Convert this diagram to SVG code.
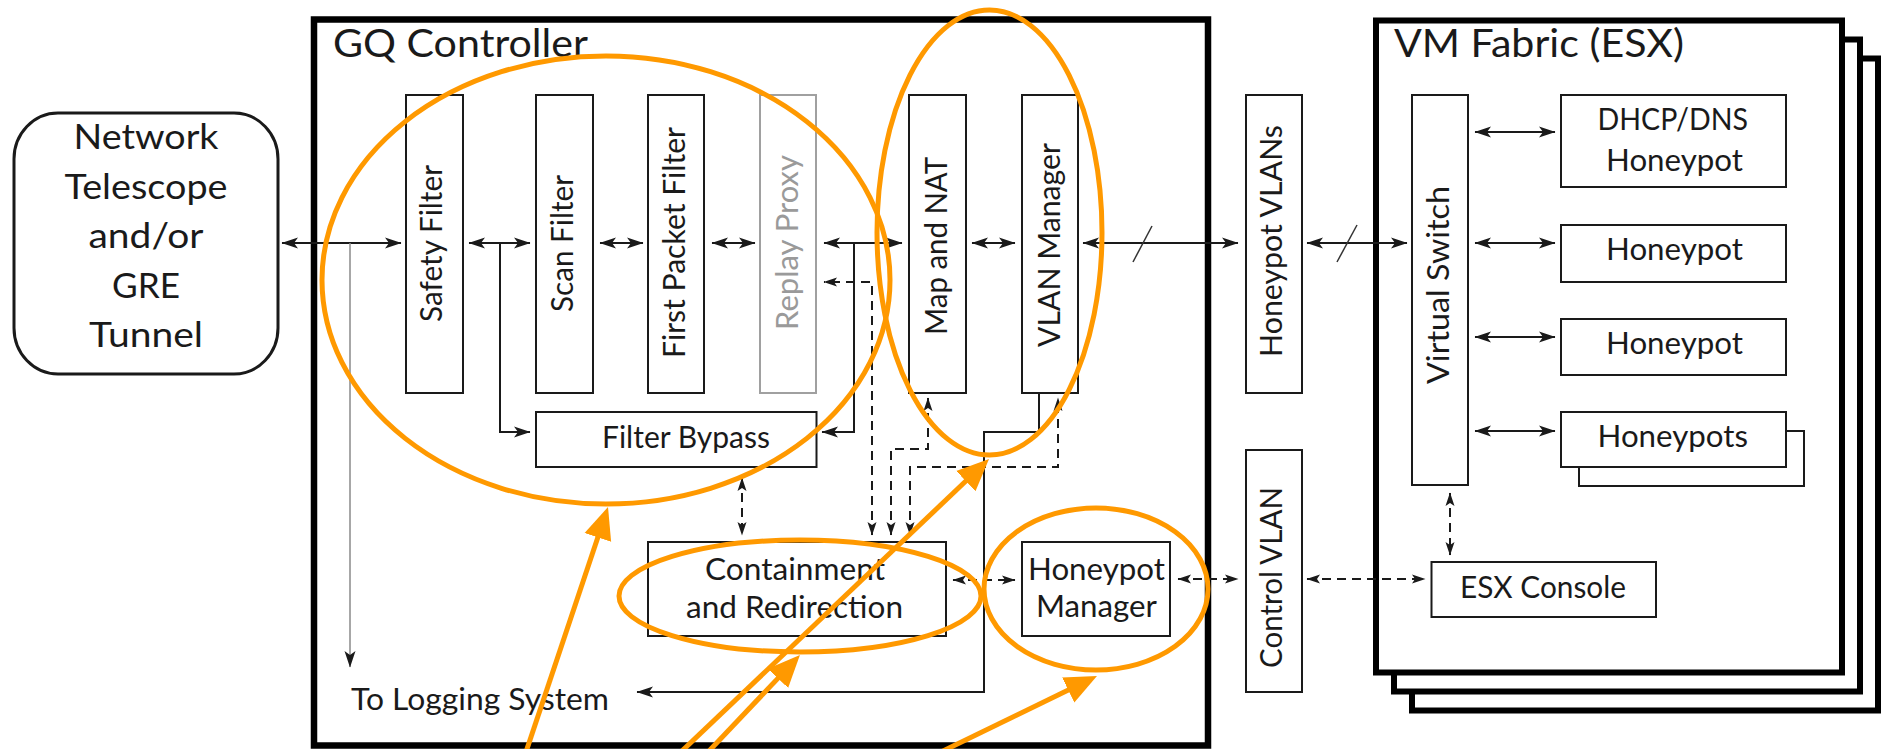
<svg xmlns="http://www.w3.org/2000/svg" width="1885" height="749" viewBox="0 0 1885 749">
  <style>
    .box { fill: #fff; stroke: #1a1a1a; stroke-width: 2; }
    .frame { fill: #fff; stroke: #000; stroke-width: 6; }
    .ghost { fill: #fff; stroke: #a0a0a0; stroke-width: 2; }
    .t { font-family: Lato, "Liberation Sans", Arial, sans-serif; fill: #1a1a1a; font-size: 30px; }
    .title { font-size: 38px; }
    .big { font-size: 35px; }
    .gray { fill: #9a9a9a; }
    .line { fill: none; stroke: #1a1a1a; stroke-width: 2; }
    .dash { fill: none; stroke: #1a1a1a; stroke-width: 2; stroke-dasharray: 9 6; }
    .hl { fill: none; stroke: #ff9900; stroke-width: 5; }
  </style>
  <defs>
    <marker id="ah" viewBox="-17 -6 18 12" refX="0" refY="0" markerWidth="18" markerHeight="12" markerUnits="userSpaceOnUse" orient="auto-start-reverse">
      <path d="M0.5,0 L-16,-5.5 L-12,0 L-16,5.5 z" fill="#1a1a1a"/>
    </marker>
    <marker id="ahs" viewBox="-14 -5 15 10" refX="0" refY="0" markerWidth="15" markerHeight="10" markerUnits="userSpaceOnUse" orient="auto-start-reverse">
      <path d="M0.5,0 L-13,-4.5 L-10,0 L-13,4.5 z" fill="#1a1a1a"/>
    </marker>
    <marker id="oh" viewBox="0 -15 33 30" refX="3" refY="0" markerWidth="33" markerHeight="30" markerUnits="userSpaceOnUse" orient="auto">
      <path d="M0,-14 L32,0 L0,14 z" fill="#ff9900"/>
    </marker>
  </defs>

  <rect width="1885" height="749" fill="#fff"/>

  <!-- external source -->
  <g id="network-telescope">
    <rect x="14" y="113" width="264" height="261" rx="44" ry="46" fill="#fff" stroke="#1a1a1a" stroke-width="3"/>
    <text class="t big" x="146" y="149" text-anchor="middle" textLength="145" lengthAdjust="spacingAndGlyphs">Network</text>
    <text class="t big" x="146" y="198.5" text-anchor="middle" textLength="163" lengthAdjust="spacingAndGlyphs">Telescope</text>
    <text class="t big" x="146" y="248" text-anchor="middle" textLength="115" lengthAdjust="spacingAndGlyphs">and/or</text>
    <text class="t big" x="146" y="297.5" text-anchor="middle" textLength="68" lengthAdjust="spacingAndGlyphs">GRE</text>
    <text class="t big" x="146" y="347" text-anchor="middle" textLength="114" lengthAdjust="spacingAndGlyphs">Tunnel</text>
  </g>

  <!-- controller frame -->
  <g id="gq-controller">
    <rect x="314" y="19.5" width="894" height="726" fill="none" stroke="#000" stroke-width="6.5"/>
    <text class="t title" x="333" y="57" textLength="255" lengthAdjust="spacingAndGlyphs">GQ Controller</text>
  </g>

  <g id="safety-filter">
    <rect class="box" x="406" y="95" width="57" height="298"/>
    <text class="t" transform="translate(442,243.5) rotate(-90)" text-anchor="middle" textLength="157" lengthAdjust="spacingAndGlyphs">Safety Filter</text>
  </g>
  <g id="scan-filter">
    <rect class="box" x="536" y="95" width="57" height="298"/>
    <text class="t" transform="translate(573,243.5) rotate(-90)" text-anchor="middle" textLength="137" lengthAdjust="spacingAndGlyphs">Scan Filter</text>
  </g>
  <g id="first-packet-filter">
    <rect class="box" x="648" y="95" width="56" height="298"/>
    <text class="t" transform="translate(685,242.5) rotate(-90)" text-anchor="middle" textLength="231" lengthAdjust="spacingAndGlyphs">First Packet Filter</text>
  </g>
  <g id="replay-proxy">
    <rect class="ghost" x="760" y="95" width="56" height="298"/>
    <text class="t gray" transform="translate(798,242.5) rotate(-90)" text-anchor="middle" textLength="175" lengthAdjust="spacingAndGlyphs">Replay Proxy</text>
  </g>
  <g id="map-and-nat">
    <rect class="box" x="909" y="95" width="57" height="298"/>
    <text class="t" transform="translate(947,246) rotate(-90)" text-anchor="middle" textLength="178" lengthAdjust="spacingAndGlyphs">Map and NAT</text>
  </g>
  <g id="vlan-manager">
    <rect class="box" x="1022" y="95" width="56" height="298"/>
    <text class="t" transform="translate(1060,245) rotate(-90)" text-anchor="middle" textLength="204" lengthAdjust="spacingAndGlyphs">VLAN Manager</text>
  </g>
  <g id="filter-bypass">
    <rect class="box" x="536" y="412" width="280.5" height="55"/>
    <text class="t" x="602" y="448" textLength="168" lengthAdjust="spacingAndGlyphs">Filter Bypass</text>
  </g>
  <g id="containment">
    <rect class="box" x="648" y="542" width="298" height="94"/>
    <text class="t" x="705" y="580" textLength="180" lengthAdjust="spacingAndGlyphs">Containment</text>
    <text class="t" x="686" y="618" textLength="217" lengthAdjust="spacingAndGlyphs">and Redirection</text>
  </g>
  <g id="honeypot-manager">
    <rect class="box" x="1022" y="542" width="148" height="94"/>
    <text class="t" x="1028" y="580" textLength="137" lengthAdjust="spacingAndGlyphs">Honeypot</text>
    <text class="t" x="1036" y="617" textLength="121" lengthAdjust="spacingAndGlyphs">Manager</text>
  </g>
  <g id="logging">
    <text class="t" x="351" y="710" textLength="258" lengthAdjust="spacingAndGlyphs">To Logging System</text>
  </g>

  <g id="honeypot-vlans">
    <rect class="box" x="1246" y="95" width="56" height="298"/>
    <text class="t" transform="translate(1282,241) rotate(-90)" text-anchor="middle" textLength="232" lengthAdjust="spacingAndGlyphs">Honeypot VLANs</text>
  </g>
  <g id="control-vlan">
    <rect class="box" x="1246" y="450" width="56" height="242"/>
    <text class="t" transform="translate(1282,577.5) rotate(-90)" text-anchor="middle" textLength="181" lengthAdjust="spacingAndGlyphs">Control VLAN</text>
  </g>

  <!-- VM fabric: stacked hosts -->
  <g id="vm-fabric">
    <rect class="frame" x="1412" y="58.5" width="466" height="652"/>
    <rect class="frame" x="1394" y="39.5" width="466" height="652"/>
    <rect class="frame" x="1376" y="20.5" width="466" height="652"/>
    <text class="t title" x="1394" y="57" textLength="290" lengthAdjust="spacingAndGlyphs">VM Fabric (ESX)</text>
  </g>
  <g id="virtual-switch">
    <rect class="box" x="1412" y="95" width="56" height="390"/>
    <text class="t" transform="translate(1449,285) rotate(-90)" text-anchor="middle" textLength="198" lengthAdjust="spacingAndGlyphs">Virtual Switch</text>
  </g>
  <g id="dhcp-dns-honeypot">
    <rect class="box" x="1561" y="95" width="225" height="92"/>
    <text class="t" x="1597.5" y="130" textLength="150.5" lengthAdjust="spacingAndGlyphs">DHCP/DNS</text>
    <text class="t" x="1606" y="171" textLength="137" lengthAdjust="spacingAndGlyphs">Honeypot</text>
  </g>
  <g id="honeypot-1">
    <rect class="box" x="1561" y="225" width="225" height="57"/>
    <text class="t" x="1606" y="260" textLength="137" lengthAdjust="spacingAndGlyphs">Honeypot</text>
  </g>
  <g id="honeypot-2">
    <rect class="box" x="1561" y="319" width="225" height="56"/>
    <text class="t" x="1606" y="354" textLength="137" lengthAdjust="spacingAndGlyphs">Honeypot</text>
  </g>
  <g id="honeypots">
    <rect class="box" x="1579" y="431" width="225" height="55"/>
    <rect class="box" x="1561" y="412" width="225" height="55"/>
    <text class="t" x="1597.5" y="447" textLength="150.5" lengthAdjust="spacingAndGlyphs">Honeypots</text>
  </g>
  <g id="esx-console">
    <rect class="box" x="1431.5" y="562" width="224.5" height="55"/>
    <text class="t" x="1460" y="598" textLength="166" lengthAdjust="spacingAndGlyphs">ESX Console</text>
  </g>

  <!-- data and control paths -->
  <g id="connectors">
    <path class="line" d="M282,243 H401" marker-start="url(#ah)" marker-end="url(#ah)"/>
    <path d="M350,243 V667" fill="none" stroke="#8a8a8a" stroke-width="1.5" marker-end="url(#ah)"/>
    <path class="line" d="M469,243 H530" marker-start="url(#ah)" marker-end="url(#ah)"/>
    <path class="line" d="M500,243 V432 H530" marker-end="url(#ah)"/>
    <path class="line" d="M600,243 H643" marker-start="url(#ah)" marker-end="url(#ah)"/>
    <path class="line" d="M712,243 H755" marker-start="url(#ah)" marker-end="url(#ah)"/>
    <path class="line" d="M824,243 H902" marker-start="url(#ah)" marker-end="url(#ah)"/>
    <path class="line" d="M854,243 V432 H822" marker-end="url(#ah)"/>
    <path class="line" d="M972,243 H1015" marker-start="url(#ah)" marker-end="url(#ah)"/>
    <path class="line" d="M1083,243 H1238" marker-start="url(#ah)" marker-end="url(#ah)"/>
    <path d="M1133,262 L1152,226" fill="none" stroke="#333" stroke-width="1.5"/>
    <path class="line" d="M1307,243 H1407" marker-start="url(#ah)" marker-end="url(#ah)"/>
    <path d="M1337,262 L1357,225" fill="none" stroke="#333" stroke-width="1.5"/>
    <path class="line" d="M1475,132 H1555" marker-start="url(#ah)" marker-end="url(#ah)"/>
    <path class="line" d="M1475,243 H1555" marker-start="url(#ah)" marker-end="url(#ah)"/>
    <path class="line" d="M1475,337 H1555" marker-start="url(#ah)" marker-end="url(#ah)"/>
    <path class="line" d="M1475,431 H1555" marker-start="url(#ah)" marker-end="url(#ah)"/>
    <path class="line" d="M1039,393 V432 H984 V692 H637" marker-end="url(#ah)"/>

    <path class="dash" d="M872,535 V282 H824" marker-start="url(#ahs)" marker-end="url(#ahs)"/>
    <path class="dash" d="M891,535 V449 H928 V398" marker-start="url(#ahs)" marker-end="url(#ahs)"/>
    <path class="dash" d="M910,535 V467 H1058 V398" marker-start="url(#ahs)" marker-end="url(#ahs)"/>
    <path class="dash" d="M742,478 V535" marker-start="url(#ahs)" marker-end="url(#ahs)"/>
    <path class="dash" d="M953,580 H1015" marker-start="url(#ahs)" marker-end="url(#ahs)"/>
    <path class="dash" d="M1178,579 H1238" marker-start="url(#ahs)" marker-end="url(#ahs)"/>
    <path class="dash" d="M1307,579 H1425" marker-start="url(#ahs)" marker-end="url(#ahs)"/>
    <path class="dash" d="M1450,493 V555" marker-start="url(#ahs)" marker-end="url(#ahs)"/>
  </g>

  <!-- highlight overlay -->
  <g id="highlights">
    <ellipse class="hl" cx="606" cy="280" rx="284" ry="224"/>
    <ellipse class="hl" cx="989.5" cy="232.5" rx="112.5" ry="222.5"/>
    <ellipse class="hl" cx="800" cy="596" rx="181" ry="56"/>
    <ellipse class="hl" cx="1096" cy="589" rx="112" ry="81"/>
    <path class="hl" d="M523.3,760 L598.8,534.5" marker-end="url(#oh)"/>
    <path class="hl" d="M702.7,757.7 L780,676.1" marker-end="url(#oh)"/>
    <path class="hl" d="M675.3,757.3 L968,479" marker-end="url(#oh)"/>
    <path class="hl" d="M929,757.8 L1070.9,688.7" marker-end="url(#oh)"/>
  </g>
</svg>
